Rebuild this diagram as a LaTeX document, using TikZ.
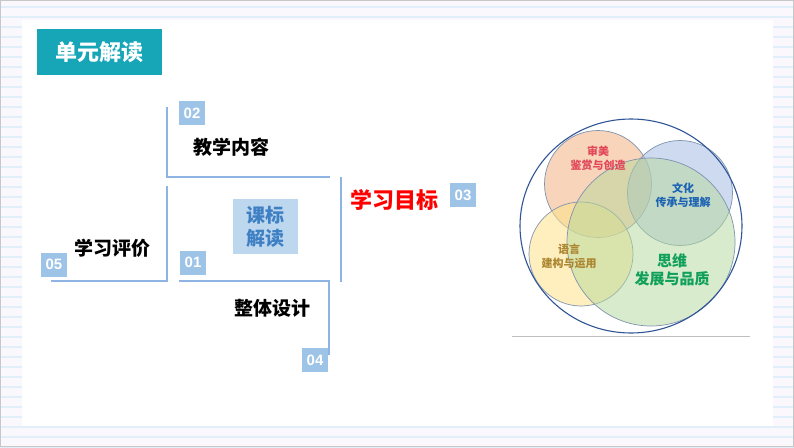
\documentclass[tikz,border=0pt]{standalone}
\usepackage{fontspec}
\setmainfont{Liberation Sans}
\newfontfamily\cjk{Noto Sans CJK SC}
\definecolor{bglav}{HTML}{FAF8FD}
\definecolor{stripe}{HTML}{E0EFFA}
\definecolor{teal}{HTML}{17A5B8}
\definecolor{lineblue}{HTML}{8EB4E3}
\definecolor{badgeblue}{HTML}{9DC3E6}
\definecolor{kbfill}{HTML}{BDD7EE}
\definecolor{kbtext}{HTML}{3F80C4}
\definecolor{cOrange}{HTML}{F4B183}
\definecolor{cBlue}{HTML}{9FB7E3}
\definecolor{cYellow}{HTML}{FFE38A}
\definecolor{cGreen}{HTML}{B5D99C}
\definecolor{cEdge}{HTML}{7F93AE}
\definecolor{tRed}{HTML}{E2475A}
\definecolor{tBlue}{HTML}{1C63B3}
\definecolor{tGold}{HTML}{AC8630}
\definecolor{tGreen}{HTML}{10A05A}
\definecolor{outerc}{HTML}{2F5597}
\tikzset{
  badge/.style={fill=badgeblue, text=white, font=\bfseries\fontsize{15}{15}\selectfont, minimum width=26pt, minimum height=24pt, inner sep=0pt},
  lbl/.style={inner sep=0pt, font=\cjk\bfseries\fontsize{19}{19}\selectfont, text=black},
  bracket/.style={draw=lineblue, line width=1.1pt},
  venn/.style={circle, draw=cEdge, line width=0.7pt, inner sep=0pt},
  vtxt/.style={inner sep=0pt, align=center, font=\cjk\bfseries\fontsize{11}{14}\selectfont},
}
\begin{document}
\begin{tikzpicture}[x=1pt,y=-1pt]
\useasboundingbox (0,0) rectangle (794,447);
\fill[bglav] (0,0) rectangle (794,447);
\foreach \y in {7,17,...,447} \draw[stripe, line width=1.2pt] (0,\y) -- (794,\y);
\fill[white] (22,20) rectangle (773,426);
\draw[black!22, line width=1pt] (0.5,0.5) rectangle (793.5,446.5);

% title
\node[fill=teal, minimum width=125pt, minimum height=46pt, anchor=north west, inner sep=0pt,
      text=white, font=\cjk\bfseries\fontsize{22}{22}\selectfont] (title) at (37,29) {单元解读};

% bracket coordinates
\coordinate (b2t) at (167,107); \coordinate (b2c) at (167,177); \coordinate (b2e) at (330,177);
\coordinate (b5t) at (167,186); \coordinate (b5c) at (167,281); \coordinate (b5e) at (51,281);
\coordinate (b4s) at (179,281); \coordinate (b4c) at (329,281); \coordinate (b4e) at (329,355);
\coordinate (b3t) at (341,177); \coordinate (b3e) at (341,282);
\draw[bracket] (b2t) -- (b2c) -- (b2e);
\draw[bracket] (b5t) -- (b5c) -- (b5e);
\draw[bracket] (b4s) -- (b4c) -- (b4e);
\draw[bracket] (b3t) -- (b3e);

% badges
\node[badge] (n02) at (192,113) {02};
\node[badge] (n05) at (54,264.5) {05};
\node[badge] (n01) at (193,262.5) {01};
\node[badge] (n04) at (315,360) {04};
\node[badge] (n03) at (463,195) {03};

% labels
\node[lbl] (jxnr) at (231,147) {教学内容};
\node[lbl] (xxpj) at (112,248) {学习评价};
\node[lbl] (ztsj) at (272,308) {整体设计};
\node[lbl, text=red, font=\cjk\bfseries\fontsize{22}{22}\selectfont] (xxmb) at (394,200) {学习目标};
\node[fill=kbfill, minimum width=65pt, minimum height=55pt, inner sep=0pt, align=center,
      text=kbtext, font=\cjk\bfseries\fontsize{19}{23}\selectfont] (kbjd) at (265.5,226.5) {课标\\解读};

% Venn
\node[venn, minimum size=107pt, fill=cOrange, fill opacity=0.55] (vaes) at (598,184) {};
\node[venn, minimum size=105pt, fill=cBlue, fill opacity=0.5] (vcul) at (680,193) {};
\node[venn, minimum size=104pt, fill=cYellow, fill opacity=0.55] (vlan) at (581,254) {};
\node[venn, minimum size=168pt, fill=cGreen, fill opacity=0.5] (vthk) at (651,242) {};
\draw[outerc, line width=1.1pt] (631,226) ellipse [x radius=111, y radius=107];
\draw[black!25, line width=0.8pt] (512,336) -- (750,336);

\node[vtxt, text=tRed] (taes) at (598,158.5) {审美\\鉴赏与创造};
\node[vtxt, text=tBlue] (tcul) at (683,195.5) {文化\\传承与理解};
\node[vtxt, text=tGold] (tlan) at (569,256) {语言\\建构与运用};
\node[vtxt, text=tGreen, font=\cjk\bfseries\fontsize{15}{18}\selectfont] (tthk) at (672,270) {思维\\发展与品质};
\end{tikzpicture}
\end{document}
